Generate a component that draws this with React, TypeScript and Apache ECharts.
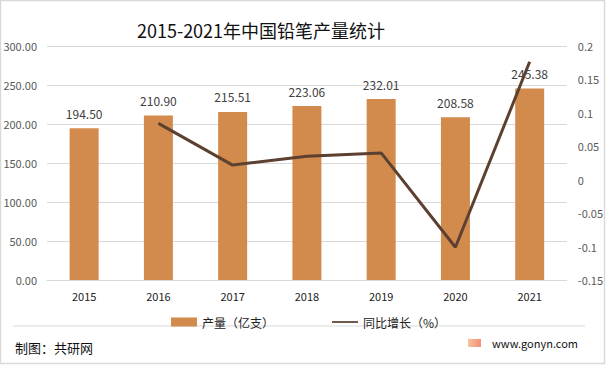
import React, { useEffect, useRef } from "react";
import * as echarts from "echarts";

const years = ["2015", "2016", "2017", "2018", "2019", "2020", "2021"];
const output = [194.5, 210.9, 215.51, 223.06, 232.01, 208.58, 245.38];
const growth = [null, 0.0843, 0.0219, 0.035, 0.0401, -0.101, 0.1764];

export default function App() {
  const ref = useRef<HTMLDivElement>(null);
  useEffect(() => {
    if (!ref.current) return;
    const chart = echarts.init(ref.current, null, { renderer: "svg" });
    const font = "'Noto Sans CJK SC', 'Noto Sans', sans-serif";
    chart.setOption({
      animation: false,
      backgroundColor: "#ffffff",
      textStyle: { fontFamily: font },
      grid: { left: 47, right: 39, top: 46, bottom: 92 },
      legend: {
        left: 166,
        top: 311,
        itemGap: 58,
        itemWidth: 26,
        itemHeight: 9,
        textStyle: { fontSize: 12, color: "#222", fontFamily: font },
        data: [
          { name: "产量（亿支）", icon: "rect" },
          { name: "同比增长（%）", icon: "path://M0,4 L30,4 L30,6 L0,6 Z" },
        ],
      },
      xAxis: {
        type: "category",
        data: years,
        axisLine: { lineStyle: { color: "#d9d9d9" } },
        axisTick: { show: false },
        axisLabel: { color: "#222", fontSize: 11, margin: 10 },
      },
      yAxis: [
        {
          type: "value",
          min: 0,
          max: 300,
          interval: 50,
          axisLine: { show: false },
          axisTick: { show: false },
          splitLine: { lineStyle: { color: "#d9d9d9" } },
          axisLabel: {
            color: "#595959",
            fontSize: 11,
            margin: 10,
            formatter: (v: number) => v.toFixed(2),
          },
        },
        {
          type: "value",
          min: -0.15,
          max: 0.2,
          interval: 0.05,
          axisLine: { show: false },
          axisTick: { show: false },
          splitLine: { show: false },
          axisLabel: {
            color: "#595959",
            fontSize: 11,
            margin: 11,
            formatter: (v: number) => String(parseFloat(v.toFixed(2))),
          },
        },
      ],
      series: [
        {
          name: "产量（亿支）",
          type: "bar",
          data: output,
          barWidth: 29,
          itemStyle: { color: "#D38B4D" },
          label: {
            show: true,
            position: "top",
            distance: 9,
            color: "#404040",
            fontSize: 12,
            formatter: (p: any) => p.value.toFixed(2),
          },
        },
        {
          name: "同比增长（%）",
          type: "line",
          yAxisIndex: 1,
          data: growth,
          showSymbol: false,
          symbol: "none",
          lineStyle: { color: "#5C4030", width: 3 },
          itemStyle: { color: "#5C4030" },
        },
      ],
      graphic: [
        {
          type: "rect",
          shape: { x: 0.5, y: 0.5, width: 604, height: 363 },
          style: { fill: "none", stroke: "#d9d9d9", lineWidth: 1.5 },
          silent: true,
        },
        {
          type: "text",
          x: 261,
          y: 30,
          style: {
            text: "2015-2021年中国铅笔产量统计",
            fill: "#111",
            font: `normal 400 18px ${font}`,
            textAlign: "center",
            textVerticalAlign: "middle",
          },
        },
        {
          type: "line",
          shape: { x1: 13, y1: 326, x2: 585, y2: 326 },
          style: { stroke: "#d9d9d9", lineWidth: 1 },
        },
        {
          type: "text",
          x: 15,
          y: 347,
          style: {
            text: "制图：共研网",
            fill: "#111",
            font: `13px ${font}`,
            textVerticalAlign: "middle",
          },
        },
        {
          type: "rect",
          shape: { x: 468, y: 339, width: 13, height: 8 },
          style: {
            fill: new echarts.graphic.LinearGradient(0, 0, 1, 0, [
              { offset: 0, color: "#F7C29B" },
              { offset: 1, color: "#F58F7A" },
            ]),
          },
        },
        {
          type: "text",
          x: 492,
          y: 343,
          style: {
            text: "www.gonyn.com",
            fill: "#111",
            font: `11px ${font}`,
            textVerticalAlign: "middle",
          },
        },
      ],
    });
    return () => chart.dispose();
  }, []);
  return <div ref={ref} style={{ width: 606, height: 372, position: "absolute", left: 0, top: 0 }} />;
}
